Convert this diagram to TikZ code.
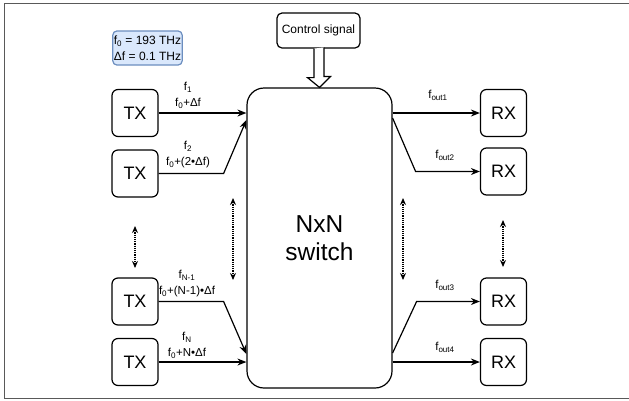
\documentclass[tikz,border=0pt]{standalone}
\usepackage{fontspec}
\setmainfont{Liberation Sans}
\usetikzlibrary{arrows.meta}
\definecolor{infofill}{HTML}{DAE8FC}
\definecolor{infoline}{HTML}{6C8EBF}

\begin{document}
\begin{tikzpicture}[x=1pt,y=-1pt,
  box/.style={draw,line width=1.2pt,rounded corners=6pt,minimum width=46pt,minimum height=47pt,inner sep=0pt,font=\fontsize{18}{20}\selectfont},
  arr/.style={line width=1.2pt,-{Stealth[length=9pt,width=7pt]}},
  dots/.style={line width=1.2pt,densely dotted,{Stealth[length=7pt,width=6pt]}-{Stealth[length=7pt,width=6pt]}},
  lbl/.style={align=center,inner sep=0pt,font=\fontsize{11.5}{16}\selectfont}]
\useasboundingbox (0,0) rectangle (629,400);
\draw[gray!70!black,line width=1.5pt] (629,3.5) -- (4.5,3.5) -- (4.5,398.5) -- (629,398.5);

% settings
\node[draw=infoline,fill=infofill,line width=1.2pt,rounded corners=4pt,minimum width=69pt,minimum height=34pt,inner sep=1pt,align=center,font=\fontsize{12}{16}\selectfont] (info) at (147.5,48) {f\textsubscript{0} = 193 THz\\Δf = 0.1 THz};

% switch and control
\node[draw,line width=1.2pt,rounded corners=17pt,minimum width=145pt,minimum height=300pt,align=center,font=\fontsize{24.5}{28}\selectfont] (sw) at (319.5,238) {NxN\\switch};
\node[draw,line width=1.2pt,rounded corners=5pt,minimum width=83pt,minimum height=35pt,inner sep=0pt,font=\fontsize{12}{14}\selectfont] (ctrl) at (318.5,30.5) {Control signal};
\draw[line width=1.2pt,fill=white,line join=miter] (ctrl.south) ++(-4.5,0) -- ++(0,29) -- ++(-6.5,0) -- (sw.north) -- ++(11,-11) -- ++(-6.5,0) -- ++(0,-29);

% transmitters
\node[box] (tx1) at (135,113) {TX};
\node[box] (tx2) at (135,173.5) {TX};
\node[box] (tx3) at (135,301.5) {TX};
\node[box] (tx4) at (135,362) {TX};

% receivers
\node[box] (rx1) at (503.5,113) {RX};
\node[box] (rx2) at (503.5,171.5) {RX};
\node[box] (rx3) at (503.5,301.5) {RX};
\node[box] (rx4) at (503.5,362) {RX};

% inputs
\draw[arr] (tx1.east) -- (sw.west |- tx1.east);
\draw[arr] (tx2.east) -- ([xshift=65pt]tx2.east) -- ([yshift=-7pt]sw.west |- tx1.east);
\draw[arr] (tx3.east) -- ([xshift=65pt]tx3.east) -- ([yshift=8pt]sw.west |- tx4.east);
\draw[arr] (tx4.east) -- (sw.west |- tx4.east);

\node[lbl] (l1) at (188,95) {f\textsubscript{1}\\f\textsubscript{0}+Δf};
\node[lbl] (l2) at (188,155) {f\textsubscript{2}\\f\textsubscript{0}+(2•Δf)};
\node[lbl] (l3) at (187,284) {f\textsubscript{N-1}\\f\textsubscript{0}+(N-1)•Δf};
\node[lbl] (l4) at (187,345.5) {f\textsubscript{N}\\f\textsubscript{0}+N•Δf};

% outputs
\draw[arr] (sw.east |- rx1.west) -- (rx1.west);
\draw[arr] ([yshift=-5pt]sw.east |- rx1.west) -- ([xshift=23pt]sw.east |- rx2.west) -- (rx2.west);
\draw[arr] ([yshift=9pt]sw.east |- rx4.west) -- ([xshift=24pt]sw.east |- rx3.west) -- (rx3.west);
\draw[arr] (sw.east |- rx4.west) -- (rx4.west);

\node[lbl] (o1) at (438,95) {f\textsubscript{out1}};
\node[lbl] (o2) at (445,155) {f\textsubscript{out2}};
\node[lbl] (o3) at (445,285) {f\textsubscript{out3}};
\node[lbl] (o4) at (445,347) {f\textsubscript{out4}};

% more channels
\coordinate (d1a) at (135,226); \coordinate (d1b) at (135,268);
\coordinate (d2a) at (233,198); \coordinate (d2b) at (233,280);
\coordinate (d3a) at (403,198); \coordinate (d3b) at (403,280);
\coordinate (d4a) at (503,220); \coordinate (d4b) at (503,267);
\draw[dots] (d1a) -- (d1b);
\draw[dots] (d2a) -- (d2b);
\draw[dots] (d3a) -- (d3b);
\draw[dots] (d4a) -- (d4b);
\end{tikzpicture}
\end{document}
